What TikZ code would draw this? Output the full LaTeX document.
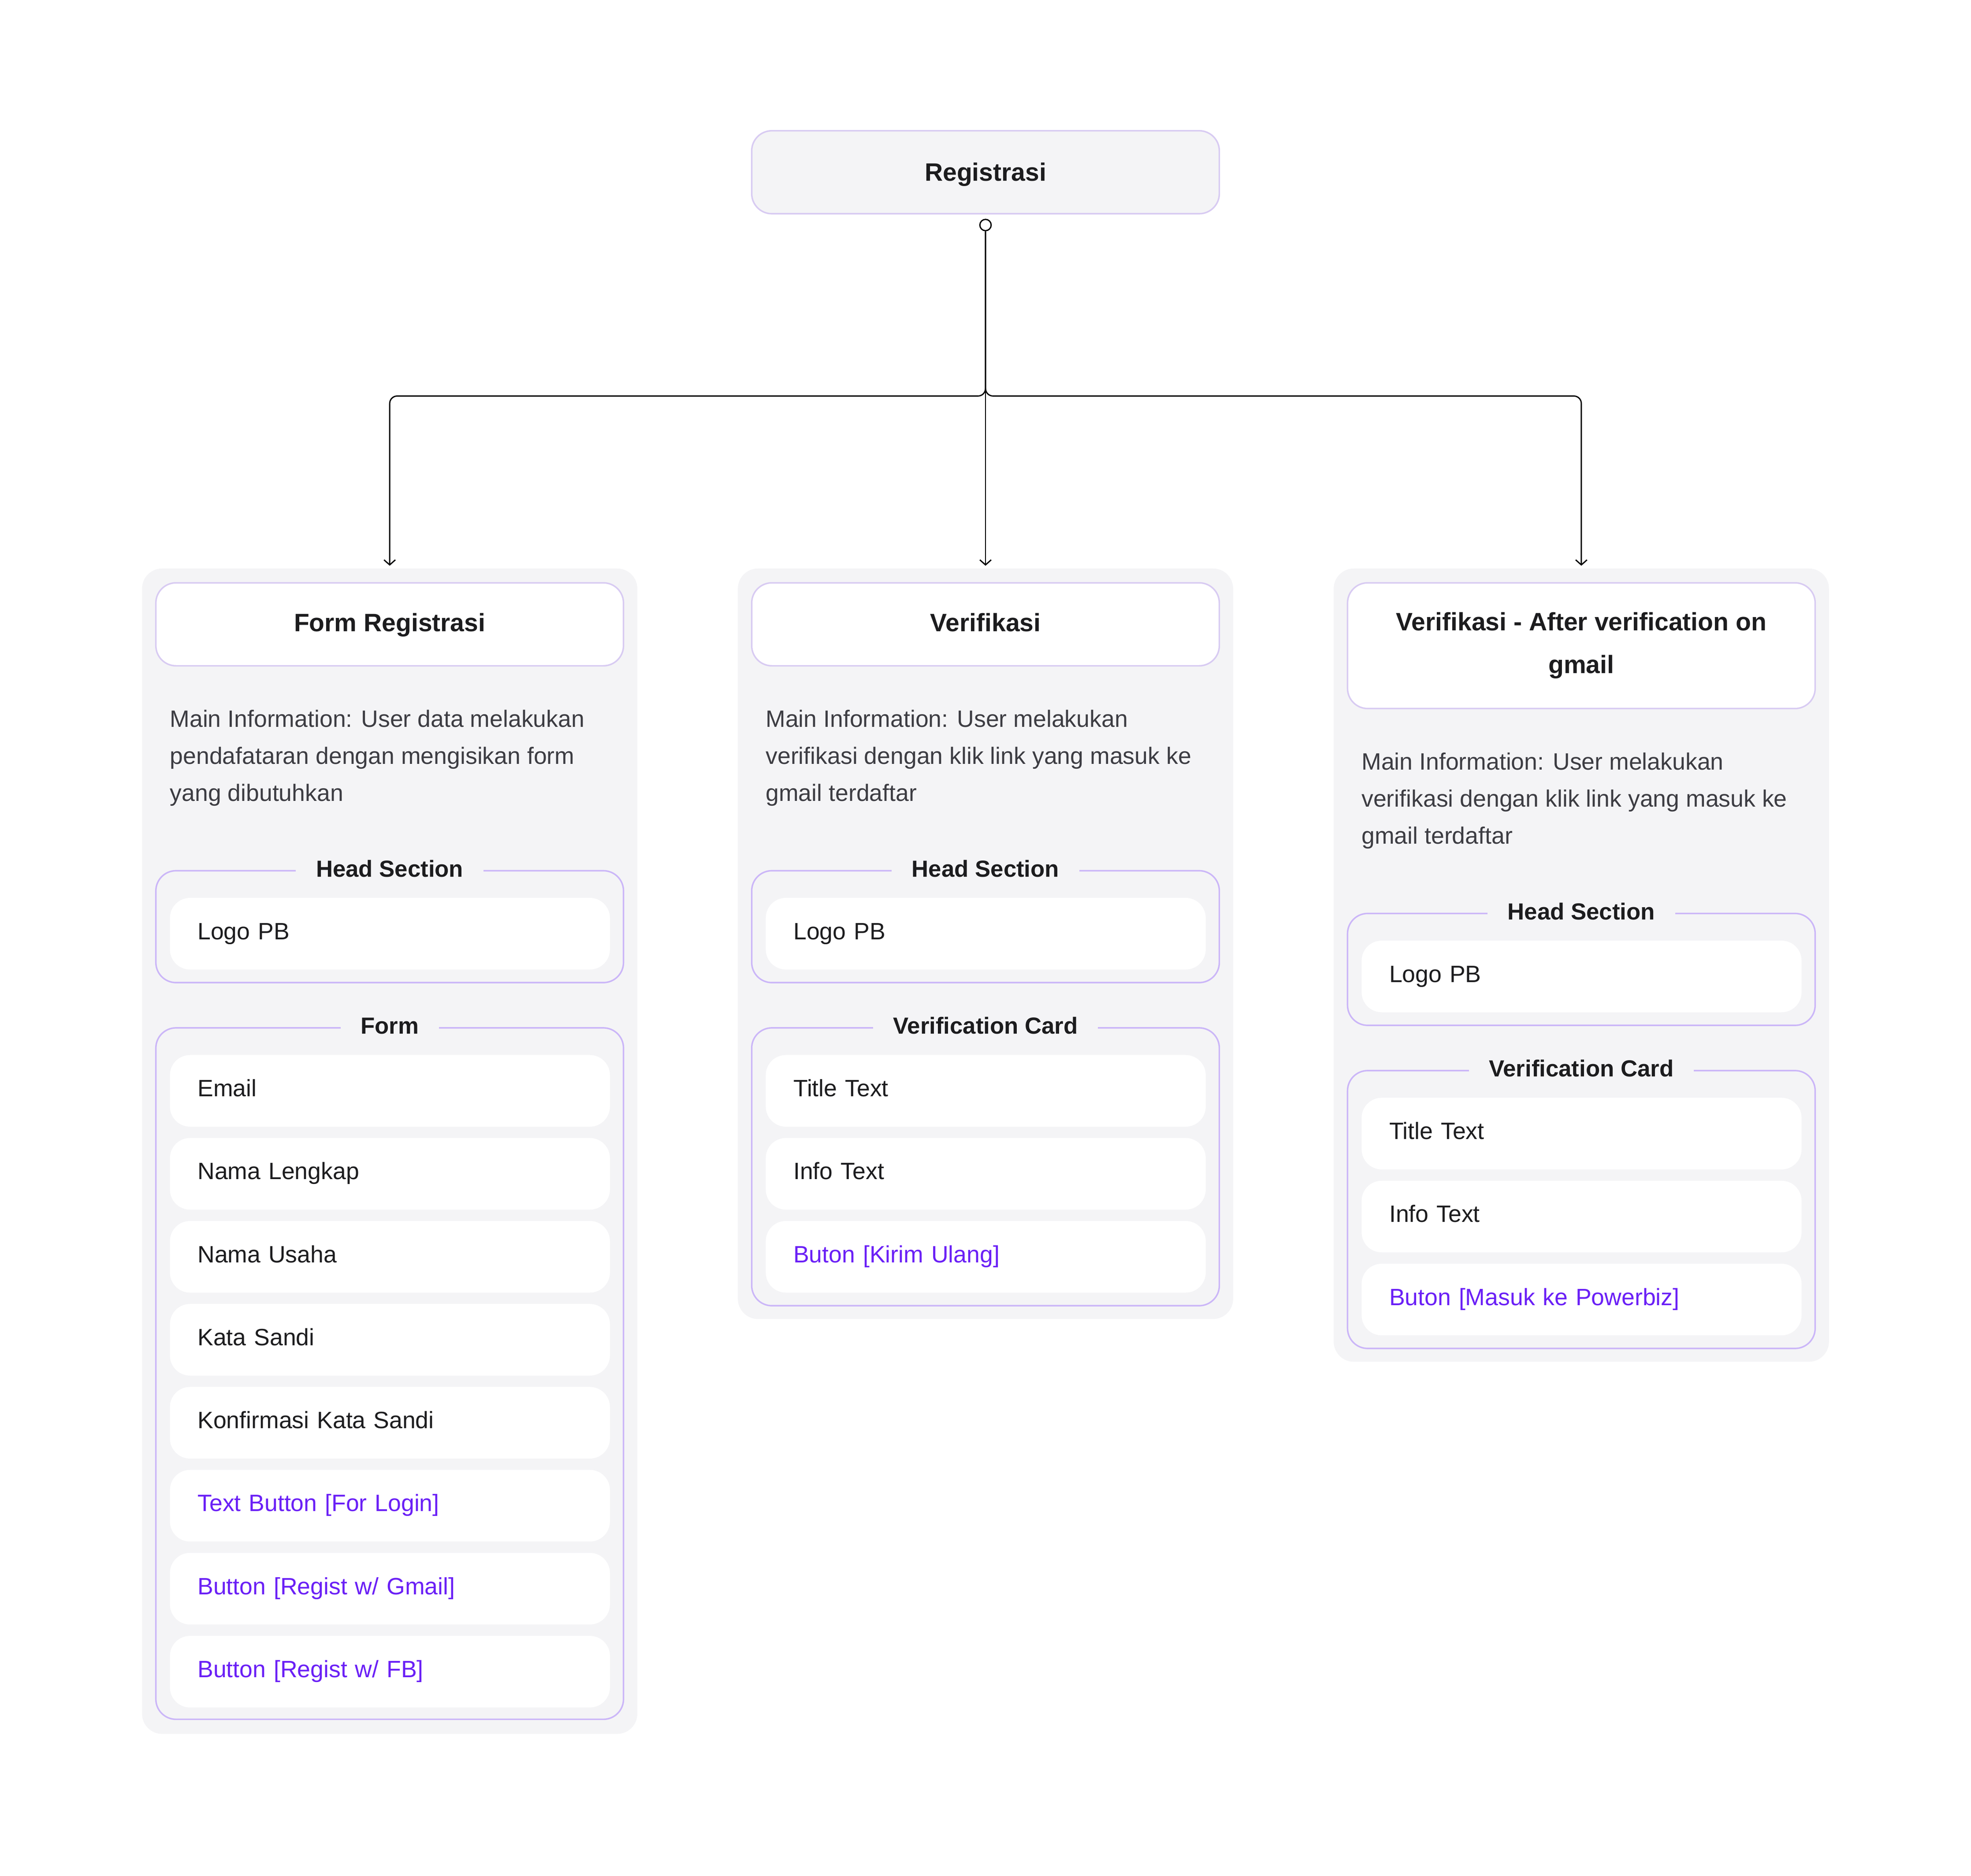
\documentclass[tikz,border=0pt]{standalone}
\usepackage{fontspec}
\setmainfont{Liberation Sans}
\usetikzlibrary{arrows.meta,positioning,calc}

\definecolor{panelgray}{HTML}{F4F4F6}
\definecolor{lilac}{HTML}{D8CBF2}
\definecolor{lilacdark}{HTML}{CBB6F8}
\definecolor{violet}{HTML}{6A1FF6}
\definecolor{inkgray}{HTML}{3C3C42}
\definecolor{ink}{HTML}{1C1C1E}

\tikzset{
	panel/.style={fill=panelgray, rounded corners=16, minimum width=394, anchor=north, inner sep=0},
	rootbox/.style={draw=lilac, line width=1.2, fill=panelgray, rounded corners=16, minimum width=372, minimum height=66, text=ink, text height=14.5, text depth=1, font=\fontsize{20}{24}\selectfont\bfseries},
	titlebox/.style={draw=lilac, line width=1.2, fill=white, rounded corners=16, minimum width=372, minimum height=66, anchor=north, text=ink, align=center, font=\fontsize{20}{34}\selectfont\bfseries},
	desc/.style={anchor=west, align=left, inner sep=0, text=inkgray, font=\fontsize{18.8}{29.5}\selectfont},
	groupbox/.style={draw=lilacdark, line width=1.2, rounded corners=16, minimum width=372, anchor=north, inner sep=0},
	grouplabel/.style={fill=panelgray, inner xsep=16, inner ysep=2, text=ink, text height=13.5, text depth=2.5, font=\fontsize{18.5}{22}\selectfont\bfseries},
	item/.style={fill=white, rounded corners=16, anchor=north west, text width=306, inner xsep=22, minimum height=57, align=left, text=ink, text height=13.5, text depth=4.5, font=\fontsize{18.8}{22}\selectfont},
	action/.style={item, text=violet},
	dot/.style={circle, draw, line width=1, fill=white, inner sep=0, minimum size=9},
	link/.style={line width=1, -{Straight Barb[length=4pt,width=9pt]}, shorten >=2}
}

\begin{document}
\begin{tikzpicture}[x=1pt, y=-1pt]
		\useasboundingbox (0,0) rectangle (1568,1492.2);
		
		%%%%% ROOT %%%%%
		\node[rootbox] (root) at (784,137) {Registrasi};
		\node[dot] (rootDot) at (784,179) {};
		\coordinate (split) at (784,315);
		
		%%%%% FORM REGISTRASI %%%%%
		\node[panel, minimum height=927] (formBg) at (310,452) {};
		\node[titlebox, text height=14.5, text depth=3] (formTitle) at (310,463) {Form Registrasi};
		\node[desc] (formDesc) at (135,603) {Main Information: User data melakukan\\pendafataran dengan mengisikan form\\yang dibutuhkan};
		
		\node[groupbox, minimum height=89] (formHead) at (310,692) {};
		\node[grouplabel] (formHeadLbl) at (formHead.north) {Head Section};
		\node[item] (formLogo) at (135,714) {Logo PB};
		
		\node[groupbox, minimum height=550] (formGroup) at (310,817) {};
		\node[grouplabel] (formGroupLbl) at (formGroup.north) {Form};
		\node[item] (formEmail) at (135,839) {Email};
		\node[item] (formNama) at (135,905) {Nama Lengkap};
		\node[item] (formUsaha) at (135,971) {Nama Usaha};
		\node[item] (formSandi) at (135,1037) {Kata Sandi};
		\node[item] (formKonfirmasi) at (135,1103) {Konfirmasi Kata Sandi};
		\node[action] (formLogin) at (135,1169) {Text Button [For Login]};
		\node[action] (formGmail) at (135,1235) {Button [Regist w/ Gmail]};
		\node[action] (formFb) at (135,1301) {Button [Regist w/ FB]};
		
		%%%%% VERIFIKASI %%%%%
		\node[panel, minimum height=597] (verifBg) at (784,452) {};
		\node[titlebox, text height=14.5, text depth=3] (verifTitle) at (784,463) {Verifikasi};
		\node[desc] (verifDesc) at (609,603) {Main Information: User melakukan\\verifikasi dengan klik link yang masuk ke\\gmail terdaftar};
		
		\node[groupbox, minimum height=89] (verifHead) at (784,692) {};
		\node[grouplabel] (verifHeadLbl) at (verifHead.north) {Head Section};
		\node[item] (verifLogo) at (609,714) {Logo PB};
		
		\node[groupbox, minimum height=221] (verifCard) at (784,817) {};
		\node[grouplabel] (verifCardLbl) at (verifCard.north) {Verification Card};
		\node[item] (verifTitleText) at (609,839) {Title Text};
		\node[item] (verifInfo) at (609,905) {Info Text};
		\node[action] (verifKirim) at (609,971) {Buton [Kirim Ulang]};
		
		%%%%% VERIFIKASI - AFTER %%%%%
		\node[panel, minimum height=631] (cekBg) at (1258,452) {};
		\node[titlebox, minimum height=100] (cekTitle) at (1258,463) {Verifikasi - After verification on\\gmail};
		\node[desc] (cekDesc) at (1083,637) {Main Information: User melakukan\\verifikasi dengan klik link yang masuk ke\\gmail terdaftar};
		
		\node[groupbox, minimum height=89] (cekHead) at (1258,726) {};
		\node[grouplabel] (cekHeadLbl) at (cekHead.north) {Head Section};
		\node[item] (cekLogo) at (1083,748) {Logo PB};
		
		\node[groupbox, minimum height=221] (cekCard) at (1258,851) {};
		\node[grouplabel] (cekCardLbl) at (cekCard.north) {Verification Card};
		\node[item] (cekTitleText) at (1083,873) {Title Text};
		\node[item] (cekInfo) at (1083,939) {Info Text};
		\node[action] (cekMasuk) at (1083,1005) {Buton [Masuk ke Powerbiz]};
		
		%%%%% LINKS %%%%%
		\draw[link, rounded corners=6] (rootDot.south) -- (split) -| (formBg.north);
		\draw[link, rounded corners=6] (rootDot.south) -- (split) -| (cekBg.north);
		\draw[link] (rootDot.south) -- (verifBg.north);
\end{tikzpicture}
\end{document}
